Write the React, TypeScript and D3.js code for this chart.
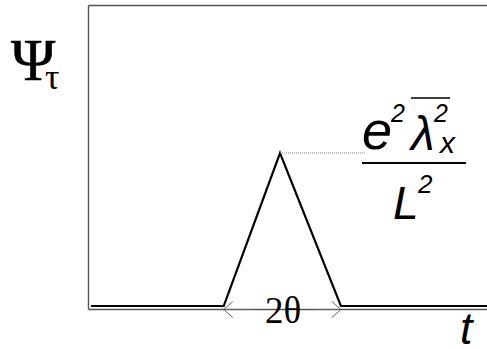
import React from "react";
import * as d3 from "d3";

// Triangular pulse of width 2θ centred on t = 0
const tValues = [-3.26, -0.97, 0, 1.05, 3.57];
const psiValues = [0, 0, 1, 0, 0];
const peakIndex = 2;
const footLeftIndex = 1;
const footRightIndex = 3;

const W = 487;
const H = 349;

const SANS = "'Liberation Sans', Arial, sans-serif";
const SERIF = "'Liberation Serif', 'Times New Roman', serif";

export default function App() {
  const x = d3.scaleLinear().domain([-3.26, 3.57]).range([91, 487]);
  const y = d3.scaleLinear().domain([0, 1]).range([306, 153]);

  const line = d3
    .line<number>()
    .x((_, i) => x(tValues[i]))
    .y((d) => y(d));

  const frameLeft = 88.5;
  const frameTop = 5.5;
  const frameBottom = 309.5;
  const frameColor = "#555";

  const xl = x(tValues[footLeftIndex]);
  const xr = x(tValues[footRightIndex]);
  const xp = x(tValues[peakIndex]);
  const yp = y(psiValues[peakIndex]);
  const arrowY = frameBottom;

  return (
    <svg
      width={W}
      height={H}
      style={{ position: "absolute", left: 0, top: 0, background: "#fff" }}
    >
      {/* frame */}
      <line x1={frameLeft} y1={frameTop} x2={frameLeft} y2={frameBottom} stroke={frameColor} strokeWidth={1.4} />
      <line x1={frameLeft} y1={frameTop} x2={W} y2={frameTop} stroke={frameColor} strokeWidth={1.4} />
      <line x1={frameLeft} y1={frameBottom} x2={W} y2={frameBottom} stroke={frameColor} strokeWidth={1.4} />

      {/* pulse */}
      <path d={line(psiValues) ?? ""} fill="none" stroke="#000" strokeWidth={2.2} strokeLinejoin="miter" />

      {/* dotted leader from the peak to its label */}
      <line x1={xp} y1={yp} x2={365} y2={yp} stroke="#888" strokeWidth={1} strokeDasharray="1,1" />

      {/* width arrows */}
      <g stroke="#666" strokeWidth={1} fill="none">
        <line x1={xl} y1={arrowY} x2={250} y2={arrowY} />
        <polyline points={`${xl + 9},${arrowY - 8} ${xl},${arrowY} ${xl + 9},${arrowY + 8}`} />
        <line x1={317} y1={arrowY} x2={xr} y2={arrowY} />
        <polyline points={`${xr - 9},${arrowY - 8} ${xr},${arrowY} ${xr - 9},${arrowY + 8}`} />
      </g>
      <text x={283} y={323} fontFamily={SERIF} fontSize={37} textAnchor="middle" fill="#000">
        2θ
      </text>

      {/* axis labels */}
      <text x={11} y={80} fontFamily={SERIF} fontSize={60} fill="#000" stroke="#000" strokeWidth={0.6}>
        Ψ
      </text>
      <text x={45} y={89} fontFamily={SERIF} fontSize={36} fill="#000">
        τ
      </text>
      <text x={460} y={344} fontFamily={SANS} fontStyle="italic" fontSize={45} fill="#000">
        t
      </text>

      {/* peak value label */}
      <g fontFamily={SANS} fontStyle="italic" fill="#000">
        <text x={362} y={149} fontSize={54}>e</text>
        <text x={391} y={122} fontSize={25}>2</text>
        <text x={411} y={150} fontSize={48}>λ</text>
        <text x={434} y={122} fontSize={25}>2</text>
        <text x={440} y={153} fontSize={30}>x</text>
        <text x={393} y={219} fontSize={46}>L</text>
        <text x={418} y={193} fontSize={26}>2</text>
      </g>
      <line x1={411} y1={98} x2={450} y2={98} stroke="#000" strokeWidth={1.6} />
      <line x1={362} y1={163} x2={466} y2={163} stroke="#000" strokeWidth={2} />
    </svg>
  );
}
